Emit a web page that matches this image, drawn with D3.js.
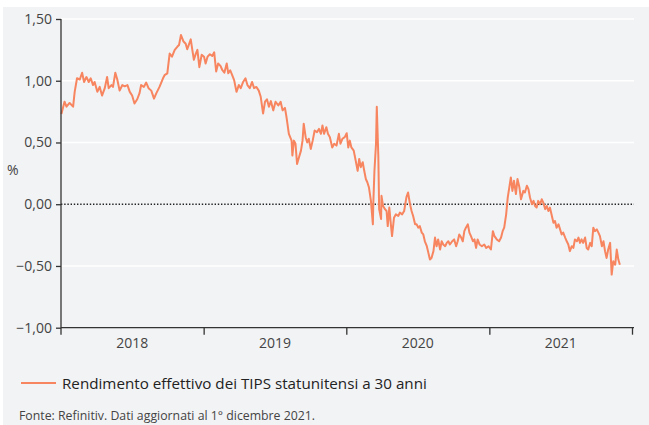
<!DOCTYPE html>
<html>
<head>
<meta charset="utf-8">
<script src="https://cdn.jsdelivr.net/npm/d3@7"></script>
<style>
  html, body { margin: 0; padding: 0; background: #ffffff; }
  svg { display: block; font-family: "Open Sans", Roboto, sans-serif; }
</style>
</head>
<body>
<div id="chart"></div>
<script>
// Rendimento effettivo TIPS 30 anni
const dates = [
  "2018-01-02","2018-01-10","2018-01-15","2018-01-23","2018-02-01","2018-02-05","2018-02-11","2018-02-18","2018-02-24","2018-03-01",
  "2018-03-07","2018-03-13","2018-03-18","2018-03-24","2018-03-28","2018-04-04","2018-04-10","2018-04-16","2018-04-23","2018-04-29",
  "2018-05-03","2018-05-10","2018-05-14","2018-05-20","2018-05-25","2018-05-31","2018-06-07","2018-06-13","2018-06-20","2018-06-26",
  "2018-07-02","2018-07-08","2018-07-15","2018-07-21","2018-07-25","2018-08-01","2018-08-07","2018-08-13","2018-08-20","2018-08-27",
  "2018-09-02","2018-09-10","2018-09-19","2018-09-23","2018-09-30","2018-10-06","2018-10-12","2018-10-19","2018-10-26","2018-10-30",
  "2018-11-04","2018-11-10","2018-11-16","2018-11-20","2018-11-24","2018-11-29","2018-12-03","2018-12-07","2018-12-12","2018-12-16",
  "2018-12-21","2018-12-27",
  "2019-01-02","2019-01-06","2019-01-11","2019-01-17","2019-01-23","2019-01-28","2019-02-02","2019-02-07","2019-02-13","2019-02-18",
  "2019-02-23","2019-03-01","2019-03-05","2019-03-10","2019-03-15","2019-03-20","2019-03-26","2019-04-01","2019-04-06","2019-04-12",
  "2019-04-18","2019-04-23","2019-04-29","2019-05-05","2019-05-10","2019-05-16","2019-05-22","2019-05-27","2019-06-02","2019-06-07",
  "2019-06-12","2019-06-17","2019-06-22","2019-06-28","2019-07-04","2019-07-11","2019-07-17","2019-07-22","2019-07-28","2019-08-01",
  "2019-08-07","2019-08-14","2019-08-16","2019-08-20","2019-08-24","2019-08-28","2019-09-02","2019-09-07","2019-09-11","2019-09-14",
  "2019-09-19","2019-09-23","2019-09-27","2019-10-02","2019-10-07","2019-10-12","2019-10-18","2019-10-23","2019-10-28","2019-11-01",
  "2019-11-05","2019-11-11","2019-11-15","2019-11-20","2019-11-26","2019-12-01","2019-12-07","2019-12-13","2019-12-17","2019-12-22",
  "2019-12-28",
  "2020-01-02","2020-01-06","2020-01-10","2020-01-14","2020-01-20","2020-01-25","2020-01-30","2020-02-03","2020-02-07","2020-02-12",
  "2020-02-15","2020-02-20","2020-02-24","2020-02-28","2020-03-04","2020-03-09","2020-03-10","2020-03-13","2020-03-17","2020-03-19",
  "2020-03-23","2020-03-25","2020-03-30","2020-03-31","2020-04-04","2020-04-09","2020-04-13","2020-04-16","2020-04-20","2020-04-24",
  "2020-04-27","2020-05-02","2020-05-07","2020-05-13","2020-05-17","2020-05-23","2020-05-28","2020-06-03","2020-06-07","2020-06-12",
  "2020-06-16","2020-06-20","2020-06-25","2020-06-29","2020-07-03","2020-07-07","2020-07-12","2020-07-16","2020-07-20","2020-07-25",
  "2020-07-29","2020-08-02","2020-08-06","2020-08-11","2020-08-15","2020-08-19","2020-08-23","2020-08-28","2020-09-01","2020-09-05",
  "2020-09-10","2020-09-14","2020-09-18","2020-09-22","2020-09-28","2020-10-03","2020-10-08","2020-10-12","2020-10-16","2020-10-21",
  "2020-10-25","2020-10-29","2020-11-02","2020-11-07","2020-11-11","2020-11-15","2020-11-20","2020-11-24","2020-11-28","2020-12-02",
  "2020-12-07","2020-12-13","2020-12-19","2020-12-24","2020-12-30",
  "2021-01-05","2021-01-10","2021-01-14","2021-01-20","2021-01-26","2021-01-31","2021-02-04","2021-02-08","2021-02-13","2021-02-17",
  "2021-02-21","2021-02-25","2021-03-01","2021-03-05","2021-03-10","2021-03-14","2021-03-19","2021-03-23","2021-03-29","2021-04-02",
  "2021-04-07","2021-04-11","2021-04-15","2021-04-20","2021-04-24","2021-04-28","2021-05-02","2021-05-06","2021-05-11","2021-05-15",
  "2021-05-19","2021-05-24","2021-05-28","2021-06-01","2021-06-05","2021-06-10","2021-06-14","2021-06-18","2021-06-22","2021-06-27",
  "2021-07-01","2021-07-05","2021-07-09","2021-07-14","2021-07-18","2021-07-22","2021-07-26","2021-07-31","2021-08-04","2021-08-08",
  "2021-08-13","2021-08-17","2021-08-21","2021-08-25","2021-08-29","2021-09-03","2021-09-07","2021-09-11","2021-09-16","2021-09-20",
  "2021-09-24","2021-09-28","2021-10-03","2021-10-07","2021-10-11","2021-10-16","2021-10-20","2021-10-24","2021-10-28","2021-11-01",
  "2021-11-06","2021-11-10","2021-11-14","2021-11-19","2021-11-23","2021-11-27","2021-12-01"
];

const values = [
  0.73, 0.83, 0.79, 0.82, 0.79, 0.91, 1.02, 1.01, 1.065, 0.99,
  1.03, 0.99, 1.02, 0.965, 0.99, 0.91, 0.95, 0.88, 0.94, 1.03,
  0.94, 0.965, 0.95, 1.065, 1.01, 0.92, 0.965, 0.955, 0.965, 0.91,
  0.88, 0.815, 0.85, 0.90, 0.965, 0.95, 0.985, 0.94, 0.92, 0.855,
  0.90, 0.95, 1.02, 1.045, 1.06, 1.22, 1.195, 1.25, 1.277, 1.29,
  1.37, 1.32, 1.30, 1.255, 1.29, 1.335, 1.25, 1.17, 1.22, 1.25,
  1.11, 1.21,
  1.195, 1.14, 1.195, 1.215, 1.20, 1.23, 1.075, 1.14, 1.12, 1.085,
  1.065, 1.14, 1.06, 1.085, 1.045, 1.005, 0.91, 0.965, 0.94, 0.99,
  1.02, 0.965, 0.94, 0.99, 0.94, 0.95, 0.92, 0.87, 0.735, 0.83,
  0.85, 0.79, 0.835, 0.76, 0.83, 0.80, 0.83, 0.76, 0.78, 0.705,
  0.57, 0.515, 0.394, 0.515, 0.49, 0.326, 0.38, 0.434, 0.515, 0.652,
  0.543, 0.50, 0.53, 0.448, 0.515, 0.597, 0.584, 0.61, 0.57, 0.638,
  0.57, 0.624, 0.57, 0.543, 0.46, 0.49, 0.475, 0.57, 0.49, 0.53,
  0.543,
  0.575, 0.46, 0.515, 0.46, 0.434, 0.353, 0.27, 0.367, 0.30, 0.34,
  0.285, 0.204, 0.176, 0.135, 0.027, -0.163, 0.0, 0.27, 0.49, 0.79,
  0.38, -0.04, -0.12, 0.068, -0.014, -0.04, -0.055, -0.177, -0.027, -0.163,
  -0.258, -0.11, -0.082, -0.095, -0.068, -0.082, -0.055, 0.06, 0.095, 0.0,
  -0.055, -0.095, -0.163, -0.163, -0.19, -0.177, -0.23, -0.245, -0.30, -0.34,
  -0.394, -0.448, -0.435, -0.38, -0.27, -0.34, -0.285, -0.367, -0.30, -0.326,
  -0.34, -0.313, -0.30, -0.326, -0.30, -0.285, -0.34, -0.30, -0.245, -0.27,
  -0.30, -0.218, -0.19, -0.163, -0.23, -0.258, -0.30, -0.285, -0.354, -0.285,
  -0.326, -0.34, -0.326, -0.354, -0.34,
  -0.367, -0.218, -0.258, -0.285, -0.30, -0.27, -0.218, -0.19, -0.082, 0.054,
  0.135, 0.217, 0.108, 0.19, 0.082, 0.204, 0.135, 0.04, 0.108, 0.095,
  0.15, 0.122, 0.054, 0.0, 0.027, -0.014, -0.027, 0.027, 0.0, 0.04,
  0.013, -0.04, -0.014, -0.055, -0.027, -0.095, -0.15, -0.136, -0.19, -0.163,
  -0.204, -0.245, -0.23, -0.27, -0.30, -0.326, -0.38, -0.34, -0.354, -0.285,
  -0.30, -0.27, -0.313, -0.285, -0.313, -0.27, -0.354, -0.367, -0.313, -0.34,
  -0.19, -0.218, -0.204, -0.23, -0.258, -0.34, -0.30, -0.38, -0.435, -0.367,
  -0.313, -0.57, -0.462, -0.49, -0.367, -0.448, -0.49
];

const yTicks = [1.5, 1.0, 0.5, 0.0, -0.5, -1.0];
const years = [2018, 2019, 2020, 2021];
const seriesName = "Rendimento effettivo dei TIPS statunitensi a 30 anni";
const sourceNote = "Fonte: Refinitiv. Dati aggiornati al 1° dicembre 2021.";

const W = 649, H = 425;
const margin = { top: 19, right: 17, bottom: 99, left: 61 };
const plotW = 632 - margin.left;
const plotH = H - margin.top - margin.bottom;

const parse = d3.timeParse("%Y-%m-%d");
const data = dates.map((d, i) => ({ date: parse(d), value: values[i] }));

const it = d3.formatLocale({ decimal: ",", thousands: ".", grouping: [3], currency: ["", "€"] });
const fmt = it.format(".2f");

const svg = d3.select("#chart").append("svg")
  .attr("width", W)
  .attr("height", H);

// sfondo grigio
svg.append("rect")
  .attr("x", 3).attr("y", 7)
  .attr("width", W - 3).attr("height", H - 7)
  .attr("fill", "#f2f3f5");

const g = svg.append("g")
  .attr("transform", `translate(${margin.left},${margin.top})`);

const x = d3.scaleTime()
  .domain([new Date(2018, 0, 1), new Date(2022, 0, 1)])
  .range([0, plotW]);

const y = d3.scaleLinear()
  .domain([-1, 1.5])
  .range([plotH + 1.7, 0]);

// griglia
g.selectAll(".grid")
  .data(yTicks.filter(t => t !== 0 && t !== -1))
  .enter().append("line")
  .attr("x1", 0).attr("x2", plotW + 2)
  .attr("y1", d => y(d)).attr("y2", d => y(d))
  .attr("stroke", "#ffffff")
  .attr("stroke-width", 1.5);

// linea dello zero
g.append("line")
  .attr("x1", 0).attr("x2", plotW + 2)
  .attr("y1", y(0)).attr("y2", y(0))
  .attr("stroke", "#222")
  .attr("stroke-width", 1.4)
  .attr("stroke-dasharray", "1.4,1.8");

// serie
const line = d3.line()
  .x(d => x(d.date))
  .y(d => y(d.value));

g.append("path")
  .datum(data)
  .attr("fill", "none")
  .attr("stroke", "#f7855f")
  .attr("stroke-width", 2)
  .attr("stroke-linejoin", "round")
  .attr("d", line);

// asse y
const yAxis = g.append("g")
  .call(d3.axisLeft(y).tickValues(yTicks).tickFormat(fmt).tickSize(5).tickPadding(4));
yAxis.select(".domain").remove();
yAxis.selectAll(".tick line").attr("stroke", "#333").attr("stroke-width", 1.3);
yAxis.selectAll(".tick text")
  .attr("fill", "#444")
  .style("font-size", "14px")
  .style("font-family", "'Open Sans', sans-serif");

g.append("line")
  .attr("x1", 0).attr("x2", 0)
  .attr("y1", 0).attr("y2", y(-1) + 7)
  .attr("stroke", "#333").attr("stroke-width", 1.3);

// asse x
const xAxis = g.append("g")
  .attr("transform", `translate(0,${y(-1)})`)
  .call(d3.axisBottom(x)
    .tickValues(years.map(yr => new Date(yr + 1, 0, 1)))
    .tickFormat("")
    .tickSize(7)
    .tickSizeOuter(0));
xAxis.select(".domain").attr("d", `M0,0H${plotW + 2}`).attr("stroke", "#333").attr("stroke-width", 1.3);
xAxis.selectAll(".tick line").attr("stroke", "#333").attr("stroke-width", 1.3);

g.selectAll(".year")
  .data(years)
  .enter().append("text")
  .attr("x", d => (x(new Date(d, 0, 1)) + x(new Date(d + 1, 0, 1))) / 2)
  .attr("y", y(-1) + 20)
  .attr("text-anchor", "middle")
  .attr("fill", "#444")
  .style("font-size", "14px")
  .text(d => d);

// unità
svg.append("text")
  .attr("x", 7).attr("y", 175)
  .attr("fill", "#444")
  .style("font-size", "14px")
  .text("%");

// legenda
svg.append("line")
  .attr("x1", 21).attr("x2", 56)
  .attr("y1", 383).attr("y2", 383)
  .attr("stroke", "#f7855f")
  .attr("stroke-width", 2);

svg.append("text")
  .attr("x", 62).attr("y", 388.5)
  .attr("fill", "#222")
  .style("font-size", "15.2px")
  .text(seriesName);

svg.append("text")
  .attr("x", 19).attr("y", 420)
  .attr("fill", "#444")
  .style("font-size", "12.3px")
  .text(sourceNote);
</script>
</body>
</html>
